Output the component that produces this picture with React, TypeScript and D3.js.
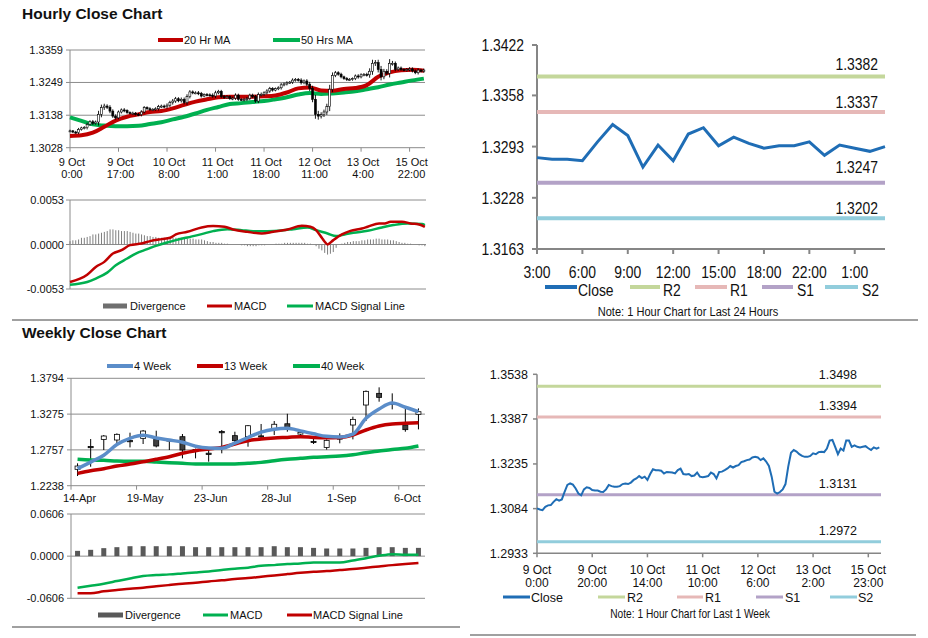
import React from "react";
import * as d3 from "d3";

// ================= DATA =================
// Hourly closes, 9 Oct 0:00 onwards (125 hourly bars) - shared by the hourly candle chart and the 1-week line chart
const hourlyClose = [
  1.3085, 1.3081, 1.3079, 1.309, 1.3095, 1.3096, 1.3107, 1.3116, 1.3111, 1.3115,
  1.3141, 1.3164, 1.3169, 1.3165, 1.3152, 1.3135, 1.3129, 1.3149, 1.3156, 1.3154,
  1.3147, 1.3145, 1.3145, 1.3141, 1.314, 1.3149, 1.3164, 1.316, 1.3158, 1.3158,
  1.316, 1.3167, 1.3169, 1.3167, 1.3172, 1.3181, 1.3186, 1.3194, 1.3187, 1.3192,
  1.3181, 1.3201, 1.3217, 1.3214, 1.3214, 1.3212, 1.3203, 1.3208, 1.3207, 1.3206,
  1.3203, 1.3214, 1.3219, 1.3201, 1.3199, 1.3201, 1.3194, 1.3196, 1.3206, 1.3192,
  1.319, 1.3192, 1.3194, 1.3206, 1.3201, 1.3186, 1.3208, 1.3209, 1.3214, 1.322,
  1.3228, 1.3223, 1.3228, 1.3231, 1.3241, 1.3244, 1.3248, 1.325, 1.3257, 1.3259,
  1.3257, 1.3248, 1.3254, 1.3243, 1.3228, 1.3192, 1.3141, 1.3135, 1.314, 1.3149,
  1.3167, 1.3226, 1.3273, 1.3282, 1.3277, 1.3268, 1.3262, 1.3259, 1.3259, 1.3262,
  1.3271, 1.3268, 1.3275, 1.3276, 1.3275, 1.3287, 1.3314, 1.3316, 1.3293, 1.3268,
  1.3287, 1.328, 1.3314, 1.3314, 1.3293, 1.3298, 1.3293, 1.3291, 1.3293, 1.3295,
  1.3288, 1.3282, 1.3291, 1.3287, 1.3291,
];
// Hourly wick length beyond the body, in pips (0.0001)
const hourlyWickPips = [
  4, 3, 4, 5, 4, 5, 6, 5, 6, 5,
  12, 10, 8, 6, 7, 6, 6, 5, 5, 6,
  4, 4, 5, 4, 5, 6, 5, 4, 5, 4,
  5, 6, 5, 5, 6, 6, 7, 6, 5, 6,
  6, 8, 6, 5, 5, 6, 5, 4, 5, 5,
  6, 7, 5, 5, 6, 5, 4, 5, 6, 5,
  4, 5, 6, 5, 5, 6, 7, 6, 5, 6,
  6, 5, 4, 5, 6, 5, 5, 4, 6, 5,
  5, 6, 5, 6, 8, 10, 15, 12, 8, 8,
  10, 15, 10, 6, 5, 5, 4, 5, 5, 4,
  5, 6, 5, 5, 6, 10, 12, 9, 10, 12,
  8, 7, 14, 8, 6, 5, 5, 4, 5, 6,
  5, 5, 6, 4, 5,
];
// Moving averages sampled every 4 bars (bar 0, 4, 8, ... 124)
const MA_STEP = 4;
const hourlyMa20 = [
  1.3068, 1.307, 1.3079, 1.3099, 1.312, 1.3133, 1.3141, 1.3149, 1.3152, 1.3161,
  1.3173, 1.3184, 1.3192, 1.3199, 1.3201, 1.3201, 1.3201, 1.3202, 1.3205, 1.3215,
  1.3229, 1.3232, 1.3222, 1.3221, 1.3227, 1.323, 1.324, 1.3268, 1.3283, 1.329,
  1.3292, 1.3289,
];
const hourlyMa50 = [
  1.3131, 1.3119, 1.3107, 1.3103, 1.3101, 1.3101, 1.3102, 1.3108, 1.3114, 1.3124,
  1.3133, 1.3144, 1.3156, 1.3166, 1.3176, 1.3179, 1.3183, 1.3186, 1.3192, 1.3199,
  1.3208, 1.3213, 1.321, 1.3212, 1.3215, 1.3219, 1.3226, 1.3233, 1.3242, 1.3249,
  1.3256, 1.3262,
];
const hourlyYTicks = [1.3028, 1.3138, 1.3249, 1.3359];
const hourlyTickIdx = [0, 17, 34, 51, 68, 85, 102, 119];
const hourlyTickDay = ["9 Oct", "9 Oct", "10 Oct", "11 Oct", "11 Oct", "12 Oct", "13 Oct", "15 Oct"];
const hourlyTickTime = ["0:00", "17:00", "8:00", "1:00", "18:00", "11:00", "4:00", "22:00"];

// Hourly MACD: [bar index, value]
const hourlyMacd: [number, number][] = [
  [0, -0.00446], [6, -0.00359], [9, -0.00267], [12, -0.00207], [15, -0.00108], [18, -0.00068],
  [21, -0.00008], [25, 0.00012], [28, 0.0004], [32, 0.00064], [35, 0.0008], [37, 0.0012],
  [41, 0.00151], [46, 0.00203], [50, 0.00219], [54, 0.00211], [57, 0.00179], [62, 0.00151],
  [67, 0.00131], [71, 0.00151], [76, 0.00179], [81, 0.00223], [84, 0.00211], [86, 0.00171],
  [88, 0.0008], [89, 0.00032], [90, 0.0], [92, 0.00052], [95, 0.0012], [98, 0.00163],
  [102, 0.00191], [104, 0.00211], [108, 0.00251], [110, 0.00251], [112, 0.00271], [116, 0.00271],
  [119, 0.00251], [122, 0.00239], [124, 0.00211],
];
const hourlySignal: [number, number][] = [
  [0, -0.00478], [6, -0.00446], [9, -0.00406], [13, -0.00335], [16, -0.00247], [20, -0.00167],
  [23, -0.00108], [27, -0.00056], [30, -0.00016], [34, 0.00024], [37, 0.00052], [41, 0.00084],
  [46, 0.00124], [50, 0.00159], [55, 0.00183], [60, 0.00171], [64, 0.00159], [69, 0.00159],
  [74, 0.00167], [78, 0.00183], [83, 0.00203], [86, 0.00171], [90, 0.00131], [93, 0.001],
  [96, 0.0012], [99, 0.00139], [104, 0.00163], [109, 0.00203], [113, 0.00231], [118, 0.00251],
  [123, 0.00243], [124, 0.00231],
];
// Divergence per bar, in units of 0.0001
const hourlyDivergence = [
  4, 5, 5, 6, 8, 8, 9, 10, 12, 12,
  13, 14, 15, 16, 18, 18, 17, 17, 16, 16,
  16, 15, 14, 13, 13, 12, 11, 10, 10, 9,
  9, 8, 8, 8, 8, 8, 8, 8, 8, 8,
  8, 7, 7, 7, 6, 6, 6, 5, 4, 3,
  3, 2, 2, 2, 1, 1, 0, 0, 0, 0,
  -1, -1, -2, -2, -2, -2, -1, -1, -1, 0,
  0, 0, 1, 1, 1, 2, 2, 2, 2, 2,
  2, 2, 2, 1, 1, 0, -2, -5, -7, -10,
  -12, -11, -9, -4, 0, 1, 2, 3, 3, 4,
  4, 4, 5, 5, 6, 6, 6, 7, 7, 6,
  6, 6, 5, 5, 4, 3, 2, 2, 1, 1,
  0, 0, -1, -1, -2,
];
const hourlyMacdTicks = [-0.0053, 0, 0.0053];
const hourlyMacdLabels = ["-0.0053", "0.0000", "0.0053"];

// Last 24 hours
const dayClose = [
  1.3279, 1.3277, 1.3277, 1.3275, 1.3299, 1.3321, 1.3307, 1.3267, 1.3295, 1.3275,
  1.3309, 1.3317, 1.3294, 1.3305, 1.3297, 1.3291, 1.3294, 1.3294, 1.3299, 1.3282,
  1.3295, 1.3291, 1.3287, 1.3293,
];
const dayTickIdx = [0, 3, 6, 9, 12, 15, 18, 21];
const dayTickLabels = ["3:00", "6:00", "9:00", "12:00", "15:00", "18:00", "22:00", "1:00"];
const dayYTicks = [1.3163, 1.3228, 1.3293, 1.3358, 1.3422];
const levelNames = ["R2", "R1", "S1", "S2"];
const dayLevels = [1.3382, 1.3337, 1.3247, 1.3202];

// Last week (hourly) levels and ticks
const weekLevels = [1.3498, 1.3394, 1.3131, 1.2972];
const weekYTicks = [1.2933, 1.3084, 1.3235, 1.3387, 1.3538];
const weekTickIdx = [0, 20, 40, 60, 80, 100, 120];
const weekTickDay = ["9 Oct", "9 Oct", "10 Oct", "11 Oct", "12 Oct", "13 Oct", "15 Oct"];
const weekTickTime = ["0:00", "20:00", "14:00", "10:00", "6:00", "2:00", "23:00"];

// Weekly candles (27 weeks from 14-Apr)
const weeklyOpen = [
  1.2475, 1.2806, 1.2909, 1.29, 1.2892, 1.2924, 1.2909, 1.2902, 1.2948, 1.2762,
  1.2709, 1.3022, 1.2963, 1.2948, 1.296, 1.3064, 1.3135, 1.2985, 1.288, 1.2793,
  1.293, 1.3117, 1.3407, 1.3576, 1.3431, 1.3117, 1.3272,
];
const weeklyHigh = [
  1.2562, 1.2914, 1.2972, 1.2996, 1.3006, 1.3045, 1.3035, 1.2909, 1.2987, 1.2776,
  1.2793, 1.3045, 1.302, 1.3117, 1.3132, 1.3175, 1.328, 1.303, 1.2924, 1.2909,
  1.2996, 1.3238, 1.3618, 1.3663, 1.3576, 1.3365, 1.3358,
];
const weeklyLow = [
  1.2378, 1.2513, 1.2755, 1.2842, 1.2793, 1.2842, 1.2793, 1.2755, 1.2634, 1.2634,
  1.2586, 1.2707, 1.2861, 1.2803, 1.2924, 1.2972, 1.302, 1.2968, 1.2842, 1.276,
  1.2852, 1.2909, 1.3175, 1.3455, 1.3344, 1.302, 1.3054,
];
const weeklyClose = [
  1.2523, 1.28, 1.2958, 1.2982, 1.2888, 1.303, 1.2813, 1.2898, 1.2755, 1.2757,
  1.2705, 1.3018, 1.289, 1.3107, 1.2955, 1.3128, 1.3055, 1.3011, 1.2876, 1.2895,
  1.2926, 1.3199, 1.3605, 1.3518, 1.3427, 1.305, 1.331,
];
const weeklyMa4 = [
  1.2485, 1.258, 1.268, 1.2835, 1.2925, 1.2968, 1.293, 1.29, 1.2868, 1.281,
  1.2784, 1.278, 1.2855, 1.2936, 1.3015, 1.3056, 1.3069, 1.3032, 1.299, 1.2953,
  1.2943, 1.2984, 1.3214, 1.3349, 1.3436, 1.3375, 1.331,
];
const weeklyMa13 = [
  1.2417, 1.2455, 1.2484, 1.2523, 1.2552, 1.2586, 1.262, 1.2658, 1.2707, 1.2745,
  1.2769, 1.2793, 1.2842, 1.289, 1.2914, 1.2929, 1.2938, 1.2948, 1.2938, 1.2934,
  1.2938, 1.2972, 1.3045, 1.3103, 1.3132, 1.3141, 1.3151,
];
const weeklyMa40 = [
  1.262, 1.261, 1.2605, 1.2595, 1.2591, 1.2591, 1.2581, 1.2571, 1.2562, 1.2552,
  1.2552, 1.2552, 1.2552, 1.2562, 1.2576, 1.26, 1.262, 1.2634, 1.2649, 1.2658,
  1.2668, 1.2687, 1.2716, 1.274, 1.2764, 1.2779, 1.2813,
];
const weeklyYTicks = [1.2238, 1.2757, 1.3275, 1.3794];
const weeklyTickIdx = [0, 5, 10, 15, 20, 25];
const weeklyTickLabels = ["14-Apr", "19-May", "23-Jun", "28-Jul", "1-Sep", "6-Oct"];

const weeklyDivergence = [
  0.0076, 0.0091, 0.0115, 0.0129, 0.0143, 0.0143, 0.0143, 0.0143, 0.0143, 0.0129,
  0.0129, 0.0129, 0.0129, 0.0129, 0.0129, 0.0143, 0.0129, 0.0129, 0.0119, 0.011,
  0.011, 0.011, 0.0119, 0.0129, 0.0129, 0.0119, 0.0119,
];
const weeklyMacd = [
  -0.0453, -0.0425, -0.0396, -0.0358, -0.032, -0.0286, -0.0272, -0.0262, -0.0248, -0.0234,
  -0.0219, -0.02, -0.0181, -0.0167, -0.0138, -0.0129, -0.0114, -0.0105, -0.0091, -0.0091,
  -0.0091, -0.0062, -0.0029, 0.0005, 0.0029, 0.0019, 0.0019,
];
const weeklySignal = [
  -0.0534, -0.0534, -0.0506, -0.0487, -0.0467, -0.0453, -0.0434, -0.0415, -0.0396, -0.0382,
  -0.0363, -0.0348, -0.0329, -0.0315, -0.0296, -0.0277, -0.0258, -0.0239, -0.0224, -0.0215,
  -0.02, -0.0186, -0.0167, -0.0148, -0.0129, -0.0114, -0.01,
];
const weeklyMacdTicks = [-0.0606, 0, 0.0606];
const weeklyMacdLabels = ["-0.0606", "0.0000", "0.0606"];

// ================= STYLE =================
const SANS = "'Liberation Sans', Arial, Helvetica, sans-serif";
const GRID = "#8c8c8c";
const AXIS = "#868686";
const RED = "#c00000";
const GREEN = "#00b050";
const BLUE4 = "#5b8dc9";
const CLOSE_BLUE = "#1f6db5";
const LEVEL_COLORS = ["#c4d79b", "#e6b8b7", "#b3a2c7", "#92cddc"];
const TXT = "#111";

// Condensed text (Arial Narrow look) made by horizontally squeezing Liberation Sans
function NText(props: {
  x: number;
  y: number;
  size: number;
  anchor?: "start" | "middle" | "end";
  squeeze?: number;
  children: React.ReactNode;
}) {
  const { x, y, size, anchor = "start", squeeze = 0.82, children } = props;
  return (
    <text
      transform={`translate(${x},${y}) scale(${squeeze},1)`}
      x={0}
      y={0}
      fontFamily={SANS}
      fontSize={size}
      textAnchor={anchor}
      fill={TXT}
    >
      {children}
    </text>
  );
}

export default function App() {
  // ---------- Panel 1: hourly candles ----------
  const xH = d3.scaleLinear().domain([0, 124.4]).range([70, 425]);
  const yH = d3.scaleLinear().domain([1.3028, 1.3359]).range([147.7, 50]);
  const maLine = d3
    .line<number>()
    .x((_, k) => xH(k * MA_STEP))
    .y((v) => yH(v))
    .curve(d3.curveMonotoneX);

  const candlesH = hourlyClose.map((c, i) => {
    const o = i > 0 ? hourlyClose[i - 1] : c;
    const w = hourlyWickPips[i] * 0.0001;
    const hi = Math.max(o, c) + w;
    const lo = Math.min(o, c) - w;
    const x = xH(i);
    const yTop = yH(Math.max(o, c));
    const yBot = yH(Math.min(o, c));
    const up = c >= o;
    return (
      <g key={"hc" + i}>
        <line x1={x} x2={x} y1={yH(hi)} y2={yH(lo)} stroke="#000" strokeWidth={0.9} />
        <rect
          x={x - 1}
          y={yTop}
          width={2}
          height={Math.max(1, yBot - yTop)}
          fill={up ? "#fff" : "#000"}
          stroke="#000"
          strokeWidth={0.6}
        />
      </g>
    );
  });

  // ---------- Panel 2: hourly MACD ----------
  const yM = d3.scaleLinear().domain([-0.0053, 0.0053]).range([289, 200]);
  const xM = d3.scaleLinear().domain([0, 124.4]).range([70, 426]);
  const pairLine = d3
    .line<[number, number]>()
    .x((d) => xM(d[0]))
    .y((d) => yM(d[1]))
    .curve(d3.curveMonotoneX);

  // ---------- Panel 3: last 24 hours ----------
  const xD = d3.scaleLinear().domain([0, 23]).range([537, 885]);
  const yD = d3.scaleLinear().domain([1.3163, 1.3422]).range([249, 45]);
  const dayLine = d3
    .line<number>()
    .x((_, i) => xD(i))
    .y((v) => yD(v));
  const dayLabelOffsets = [7, 4, 10, 4];

  // ---------- Panel 4: weekly candles ----------
  const xW = d3.scaleBand<number>().domain(d3.range(27)).range([71, 425]);
  const bw = xW.bandwidth();
  const cx = (i: number) => (xW(i) as number) + bw / 2;
  const yW = d3.scaleLinear().domain([1.2238, 1.3794]).range([485.7, 378.3]);
  const wLine = d3
    .line<number>()
    .x((_, i) => cx(i))
    .y((v) => yW(v))
    .curve(d3.curveMonotoneX);

  // ---------- Panel 5: weekly MACD ----------
  const yWM = d3.scaleLinear().domain([-0.0606, 0.0606]).range([598.3, 514]);
  const wmLine = d3
    .line<number>()
    .x((_, i) => cx(i))
    .y((v) => yWM(v))
    .curve(d3.curveMonotoneX);

  // ---------- Panel 6: last week ----------
  const xB = d3.scaleLinear().domain([0, 124.6]).range([537, 881]);
  const yB = d3.scaleLinear().domain([1.2933, 1.3538]).range([553.3, 374.3]);
  const weekLine = d3
    .line<number>()
    .x((_, i) => xB(i))
    .y((v) => yB(v));

  const leftTxt = { fontFamily: SANS, fontSize: 11, fill: TXT } as const;

  return (
    <svg
      width={928}
      height={638}
      viewBox="0 0 928 638"
      style={{ position: "absolute", left: 0, top: 0, background: "#fff" }}
    >
      <rect x={0} y={0} width={928} height={638} fill="#fff" />

      {/* ================= Panel 1 ================= */}
      <text x={22} y={18.5} fontFamily={SANS} fontWeight="bold" fontSize={15.5} fill={TXT}>
        Hourly Close Chart
      </text>
      <line x1={158} x2={183} y1={40} y2={40} stroke={RED} strokeWidth={4} />
      <text x={184} y={44} {...leftTxt}>20 Hr MA</text>
      <line x1={273} x2={300} y1={40} y2={40} stroke={GREEN} strokeWidth={4} />
      <text x={301} y={44} {...leftTxt}>50 Hrs MA</text>

      {hourlyYTicks.map((t, k) => (
        <g key={"hy" + k}>
          <line x1={66} x2={425} y1={yH(t)} y2={yH(t)} stroke={GRID} strokeWidth={1} />
          <text x={63} y={yH(t) + 4} textAnchor="end" {...leftTxt}>
            {t.toFixed(4)}
          </text>
        </g>
      ))}
      <line x1={70} x2={70} y1={50} y2={147.7} stroke={GRID} strokeWidth={1} />
      {hourlyTickIdx.map((idx, k) => (
        <g key={"hx" + k}>
          <line x1={xH(idx)} x2={xH(idx)} y1={147.7} y2={151.7} stroke={GRID} />
          <text x={xH(idx) + 2} y={165.7} textAnchor="middle" {...leftTxt}>
            {hourlyTickDay[k]}
          </text>
          <text x={xH(idx) + 2} y={178.3} textAnchor="middle" {...leftTxt}>
            {hourlyTickTime[k]}
          </text>
        </g>
      ))}
      <path d={maLine(hourlyMa50) || ""} fill="none" stroke={GREEN} strokeWidth={4} />
      <path d={maLine(hourlyMa20) || ""} fill="none" stroke={RED} strokeWidth={4} />
      {candlesH}

      {/* ================= Panel 2 ================= */}
      {hourlyMacdTicks.map((t, k) => (
        <g key={"my" + k}>
          <line x1={66} x2={426} y1={yM(t)} y2={yM(t)} stroke={GRID} strokeWidth={1} />
          <text x={64} y={yM(t) + 4} textAnchor="end" {...leftTxt}>
            {hourlyMacdLabels[k]}
          </text>
        </g>
      ))}
      <line x1={70} x2={70} y1={200} y2={289} stroke={GRID} strokeWidth={1} />
      {hourlyDivergence.map((v, i) => {
        const y0 = yM(0);
        const y1 = yM(v * 0.0001);
        return (
          <rect
            key={"hd" + i}
            x={xM(i) - 0.5}
            y={Math.min(y0, y1)}
            width={1}
            height={Math.abs(y1 - y0)}
            fill="#7f7f7f"
          />
        );
      })}
      <path d={pairLine(hourlySignal) || ""} fill="none" stroke={GREEN} strokeWidth={2.5} />
      <path d={pairLine(hourlyMacd) || ""} fill="none" stroke={RED} strokeWidth={2.5} />
      <rect x={103} y={303.5} width={24} height={5} fill="#6f6f6f" />
      <text x={130} y={310} {...leftTxt}>Divergence</text>
      <line x1={207} x2={232} y1={306} y2={306} stroke={RED} strokeWidth={3} />
      <text x={234} y={310} {...leftTxt}>MACD</text>
      <line x1={287} x2={313} y1={306} y2={306} stroke={GREEN} strokeWidth={3} />
      <text x={315} y={310} {...leftTxt}>MACD Signal Line</text>

      <line x1={12} x2={918} y1={320} y2={320} stroke="#808080" strokeWidth={1.5} />

      {/* ================= Panel 3 ================= */}
      <line x1={537} x2={537} y1={45} y2={249} stroke={AXIS} strokeWidth={2} />
      <line x1={536} x2={885} y1={249} y2={249} stroke={AXIS} strokeWidth={2} />
      {dayYTicks.map((t, k) => (
        <g key={"dy" + k}>
          <line x1={532} x2={537} y1={yD(t)} y2={yD(t)} stroke={AXIS} strokeWidth={2} />
          <NText x={524} y={yD(t) + 6} size={17} anchor="end">
            {t.toFixed(4)}
          </NText>
        </g>
      ))}
      {dayTickIdx.map((idx, k) => (
        <g key={"dx" + k}>
          <line x1={xD(idx)} x2={xD(idx)} y1={249} y2={254} stroke={AXIS} strokeWidth={2} />
          <NText x={xD(idx)} y={278} size={17} anchor="middle">
            {dayTickLabels[k]}
          </NText>
        </g>
      ))}
      {dayLevels.map((v, k) => (
        <g key={"dl" + k}>
          <line x1={537} x2={885} y1={yD(v)} y2={yD(v)} stroke={LEVEL_COLORS[k]} strokeWidth={4} />
          <NText x={878} y={yD(v) - dayLabelOffsets[k]} size={17} anchor="end">
            {v.toFixed(4)}
          </NText>
        </g>
      ))}
      <path d={dayLine(dayClose) || ""} fill="none" stroke={CLOSE_BLUE} strokeWidth={3} />
      {[
        { x1: 545, x2: 577, tx: 578, c: CLOSE_BLUE, n: "Close" },
        { x1: 630, x2: 660, tx: 663, c: LEVEL_COLORS[0], n: levelNames[0] },
        { x1: 695, x2: 727, tx: 730, c: LEVEL_COLORS[1], n: levelNames[1] },
        { x1: 762, x2: 793, tx: 797, c: LEVEL_COLORS[2], n: levelNames[2] },
        { x1: 825, x2: 858, tx: 862, c: LEVEL_COLORS[3], n: levelNames[3] },
      ].map((l, k) => (
        <g key={"dlg" + k}>
          <line x1={l.x1} x2={l.x2} y1={287} y2={287} stroke={l.c} strokeWidth={4} />
          <NText x={l.tx} y={296} size={17}>
            {l.n}
          </NText>
        </g>
      ))}
      <NText x={688} y={316} size={13.5} anchor="middle">
        Note: 1 Hour Chart for Last 24 Hours
      </NText>

      {/* ================= Panel 4 ================= */}
      <text x={22} y={337.5} fontFamily={SANS} fontWeight="bold" fontSize={15.5} fill={TXT}>
        Weekly Close Chart
      </text>
      <line x1={107} x2={133} y1={366} y2={366} stroke={BLUE4} strokeWidth={4} />
      <text x={134} y={370} {...leftTxt}>4 Week</text>
      <line x1={197} x2={223} y1={366} y2={366} stroke={RED} strokeWidth={4} />
      <text x={224} y={370} {...leftTxt}>13 Week</text>
      <line x1={293} x2={320} y1={366} y2={366} stroke={GREEN} strokeWidth={4} />
      <text x={321} y={370} {...leftTxt}>40 Week</text>

      {weeklyYTicks.map((t, k) => (
        <g key={"wy" + k}>
          <line x1={67} x2={425} y1={yW(t)} y2={yW(t)} stroke={GRID} strokeWidth={1} />
          <text x={64} y={yW(t) + 4} textAnchor="end" {...leftTxt}>
            {t.toFixed(4)}
          </text>
        </g>
      ))}
      <line x1={71} x2={71} y1={378.3} y2={485.7} stroke={GRID} strokeWidth={1} />
      {weeklyTickIdx.map((idx, k) => (
        <g key={"wx" + k}>
          <line
            x1={xW(idx) as number}
            x2={xW(idx) as number}
            y1={485.7}
            y2={489.7}
            stroke={GRID}
          />
          <text x={cx(idx) + 2} y={501.5} textAnchor="middle" {...leftTxt}>
            {weeklyTickLabels[k]}
          </text>
        </g>
      ))}
      {weeklyClose.map((c, i) => {
        const o = weeklyOpen[i];
        const x = cx(i);
        const yTop = yW(Math.max(o, c));
        const yBot = yW(Math.min(o, c));
        const up = c > o;
        return (
          <g key={"wc" + i}>
            <line x1={x} x2={x} y1={yW(weeklyHigh[i])} y2={yW(weeklyLow[i])} stroke="#000" strokeWidth={1} />
            <rect
              x={x - 2.5}
              y={yTop}
              width={5}
              height={Math.max(1.2, yBot - yTop)}
              fill={up ? "#fff" : "#404040"}
              stroke="#000"
              strokeWidth={0.8}
            />
          </g>
        );
      })}
      <path d={wLine(weeklyMa40) || ""} fill="none" stroke={GREEN} strokeWidth={3.5} />
      <path d={wLine(weeklyMa13) || ""} fill="none" stroke={RED} strokeWidth={3.5} />
      <path d={wLine(weeklyMa4) || ""} fill="none" stroke={BLUE4} strokeWidth={3.5} />

      {/* ================= Panel 5 ================= */}
      {weeklyMacdTicks.map((t, k) => (
        <g key={"wmy" + k}>
          <line x1={67} x2={425} y1={yWM(t)} y2={yWM(t)} stroke={GRID} strokeWidth={1} />
          <text x={64} y={yWM(t) + 4} textAnchor="end" {...leftTxt}>
            {weeklyMacdLabels[k]}
          </text>
        </g>
      ))}
      <line x1={71} x2={71} y1={514} y2={598.3} stroke={GRID} strokeWidth={1} />
      {weeklyDivergence.map((v, i) => (
        <rect
          key={"wd" + i}
          x={cx(i) - 2.5}
          y={yWM(v)}
          width={5}
          height={yWM(0) - yWM(v)}
          fill="#595959"
        />
      ))}
      <path d={wmLine(weeklySignal) || ""} fill="none" stroke={RED} strokeWidth={2.5} />
      <path d={wmLine(weeklyMacd) || ""} fill="none" stroke={GREEN} strokeWidth={2.5} />
      <rect x={98} y={612.5} width={25} height={5} fill="#595959" />
      <text x={125} y={619} {...leftTxt}>Divergence</text>
      <line x1={203} x2={228} y1={615} y2={615} stroke={GREEN} strokeWidth={3} />
      <text x={230} y={619} {...leftTxt}>MACD</text>
      <line x1={287} x2={312} y1={615} y2={615} stroke={RED} strokeWidth={3} />
      <text x={313} y={619} {...leftTxt}>MACD Signal Line</text>
      <line x1={12} x2={460} y1={627} y2={627} stroke="#808080" strokeWidth={1.5} />

      {/* ================= Panel 6 ================= */}
      <line x1={537} x2={537} y1={374.3} y2={553.3} stroke={AXIS} strokeWidth={1.5} />
      <line x1={536} x2={881} y1={553.3} y2={553.3} stroke={AXIS} strokeWidth={1.5} />
      {weekYTicks.map((t, k) => (
        <g key={"by" + k}>
          <line x1={533} x2={537} y1={yB(t)} y2={yB(t)} stroke={AXIS} strokeWidth={1.5} />
          <text x={528} y={yB(t) + 4.5} textAnchor="end" fontFamily={SANS} fontSize={12.5} fill={TXT}>
            {t.toFixed(4)}
          </text>
        </g>
      ))}
      {weekTickIdx.map((idx, k) => (
        <g key={"bx" + k}>
          <line x1={xB(idx)} x2={xB(idx)} y1={553.3} y2={557.3} stroke={AXIS} strokeWidth={1.5} />
          <text x={xB(idx)} y={573.5} textAnchor="middle" fontFamily={SANS} fontSize={12} fill={TXT}>
            {weekTickDay[k]}
          </text>
          <text x={xB(idx)} y={587} textAnchor="middle" fontFamily={SANS} fontSize={12} fill={TXT}>
            {weekTickTime[k]}
          </text>
        </g>
      ))}
      {weekLevels.map((v, k) => (
        <g key={"bl" + k}>
          <line x1={537} x2={881} y1={yB(v)} y2={yB(v)} stroke={LEVEL_COLORS[k]} strokeWidth={3} />
          <text x={857} y={yB(v) - 7} textAnchor="end" fontFamily={SANS} fontSize={12.5} fill={TXT}>
            {v.toFixed(4)}
          </text>
        </g>
      ))}
      <path d={weekLine(hourlyClose) || ""} fill="none" stroke={CLOSE_BLUE} strokeWidth={2} />
      {[
        { x1: 503, x2: 530, tx: 531, c: CLOSE_BLUE, n: "Close" },
        { x1: 598, x2: 625, tx: 627, c: LEVEL_COLORS[0], n: levelNames[0] },
        { x1: 677, x2: 703, tx: 705, c: LEVEL_COLORS[1], n: levelNames[1] },
        { x1: 756, x2: 783, tx: 785, c: LEVEL_COLORS[2], n: levelNames[2] },
        { x1: 830, x2: 857, tx: 858, c: LEVEL_COLORS[3], n: levelNames[3] },
      ].map((l, k) => (
        <g key={"blg" + k}>
          <line x1={l.x1} x2={l.x2} y1={597} y2={597} stroke={l.c} strokeWidth={3} />
          <text x={l.tx} y={601.5} fontFamily={SANS} fontSize={12.5} fill={TXT}>
            {l.n}
          </text>
        </g>
      ))}
      <NText x={690} y={618} size={12} anchor="middle" squeeze={0.85}>
        Note: 1 Hour Chart for Last 1 Week
      </NText>
      <line x1={470} x2={916} y1={635} y2={635} stroke="#808080" strokeWidth={1.5} />
    </svg>
  );
}
